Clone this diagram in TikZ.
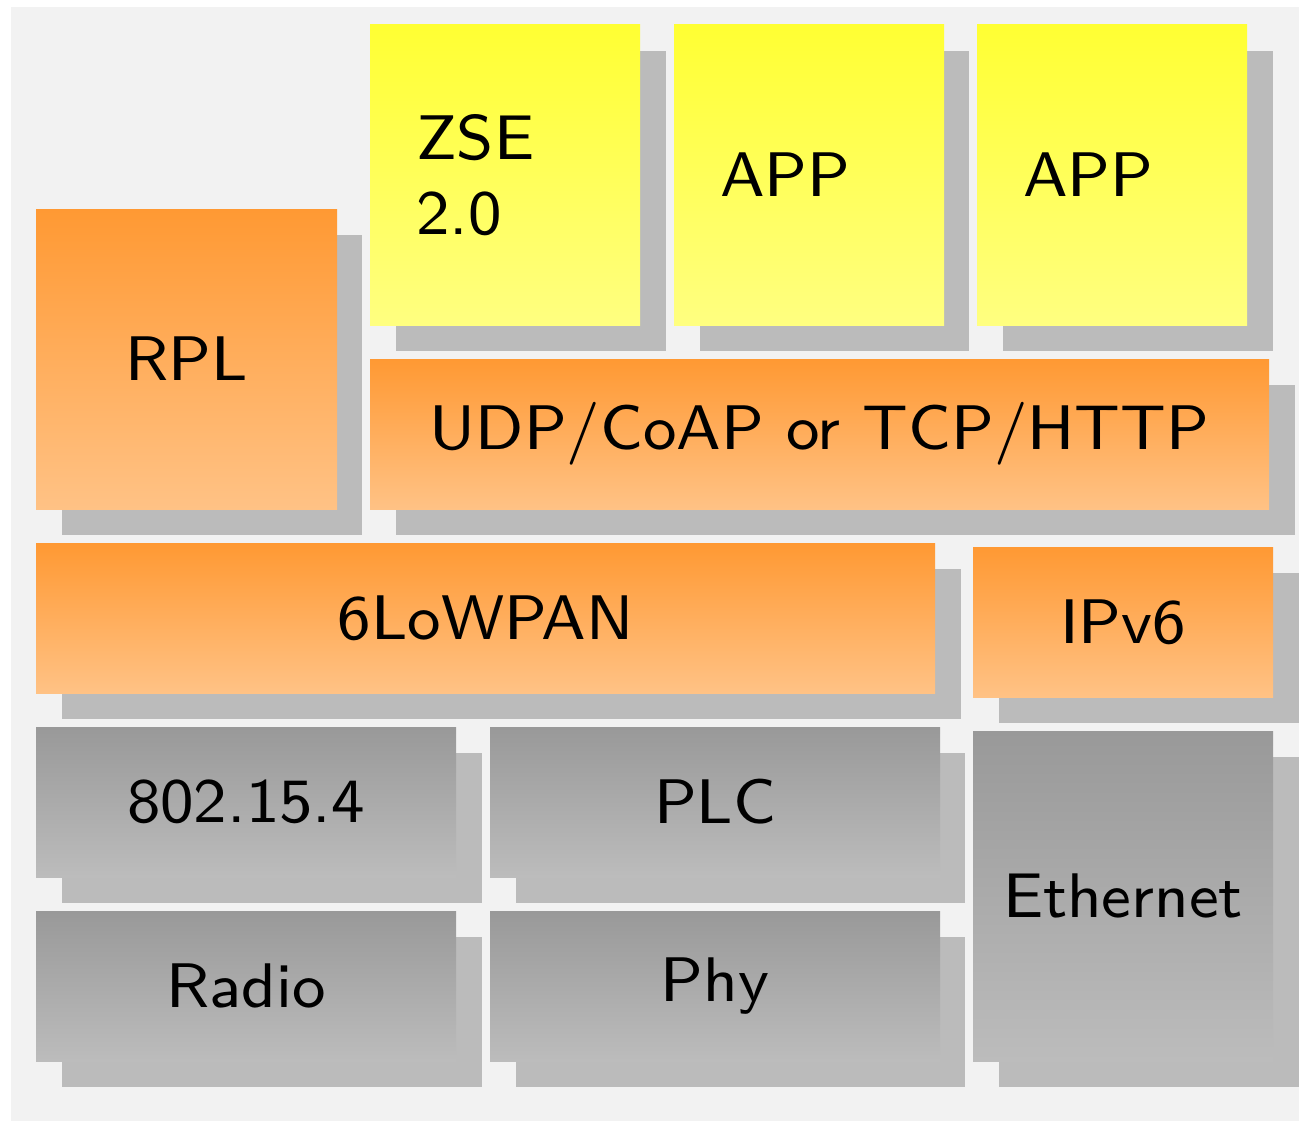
\documentclass[tikz,border=0pt]{standalone}
\usepackage{fontspec}
\newfontfamily\boxfont[Extension=.otf]{lmsans8-regular}
\usepackage{tikz}
\definecolor{bggray}{HTML}{F2F2F2}
\definecolor{shadowgray}{HTML}{BBBBBB}
\definecolor{orgtop}{HTML}{FF9933}
\definecolor{orgbot}{HTML}{FFC285}
\definecolor{yeltop}{HTML}{FFFF33}
\definecolor{yelbot}{HTML}{FFFF80}
\definecolor{graytop}{HTML}{999999}
\definecolor{graybot}{HTML}{BCBCBC}
\tikzset{
  layer/.style={shade, shading angle=0, inner sep=0, outer sep=0,
    font=\boxfont\fontsize{63}{75}\selectfont, anchor=north west},
  orangebox/.style={layer, top color=orgtop, bottom color=orgbot},
  yellowbox/.style={layer, top color=yeltop, bottom color=yelbot,
    minimum height=300pt, text width=178pt, inner xsep=46pt, align=left},
  graybox/.style={layer, top color=graytop, bottom color=graybot},
  shadowbox/.style={fill=shadowgray, draw=none}
}
\begin{document}
\begin{tikzpicture}[x=1pt,y=-1pt]
\useasboundingbox (0,0) rectangle (1305,1121);
\fill[white] (0,0) rectangle (1305,1121);
\fill[bggray] (11,7) rectangle (1299,1121);
% shadows
\fill[shadowbox] (62,235) rectangle (362,535);
\fill[shadowbox] (396,51) rectangle (666,351);
\fill[shadowbox] (700,51) rectangle (969,351);
\fill[shadowbox] (1003,51) rectangle (1273,351);
\fill[shadowbox] (396,385) rectangle (1295,535);
\fill[shadowbox] (62,569) rectangle (961,719);
\fill[shadowbox] (999,573) rectangle (1299,723);
\fill[shadowbox] (62,753) rectangle (482,903);
\fill[shadowbox] (516,753) rectangle (965,903);
\fill[shadowbox] (62,937) rectangle (482,1087);
\fill[shadowbox] (516,937) rectangle (965,1087);
\fill[shadowbox] (999,757) rectangle (1299,1087);
% boxes
\node[orangebox, minimum width=301pt, minimum height=300pt] (rpl) at (36,209) {RPL};
\node[yellowbox] (zse) at (370,25) {ZSE\\2.0};
\node[yellowbox] (app1) at (674,25) {APP};
\node[yellowbox] (app2) at (977,25) {APP};
\node[orangebox, minimum width=899pt, minimum height=150pt] (udp) at (370,359) {UDP/CoAP or TCP/HTTP};
\node[orangebox, minimum width=899pt, minimum height=150pt] (lowpan) at (36,543) {6LoWPAN};
\node[orangebox, minimum width=300pt, minimum height=150pt] (ipv6) at (973,547) {IPv6};
\node[graybox, minimum width=420pt, minimum height=150pt] (mac) at (36,727) {802.15.4};
\node[graybox, minimum width=450pt, minimum height=150pt] (plc) at (490,727) {PLC};
\node[graybox, minimum width=420pt, minimum height=150pt] (radio) at (36,911) {Radio};
\node[graybox, minimum width=450pt, minimum height=150pt] (phy) at (490,911) {Phy};
\node[graybox, minimum width=300pt, minimum height=330pt] (eth) at (973,731) {Ethernet};
\end{tikzpicture}
\end{document}
